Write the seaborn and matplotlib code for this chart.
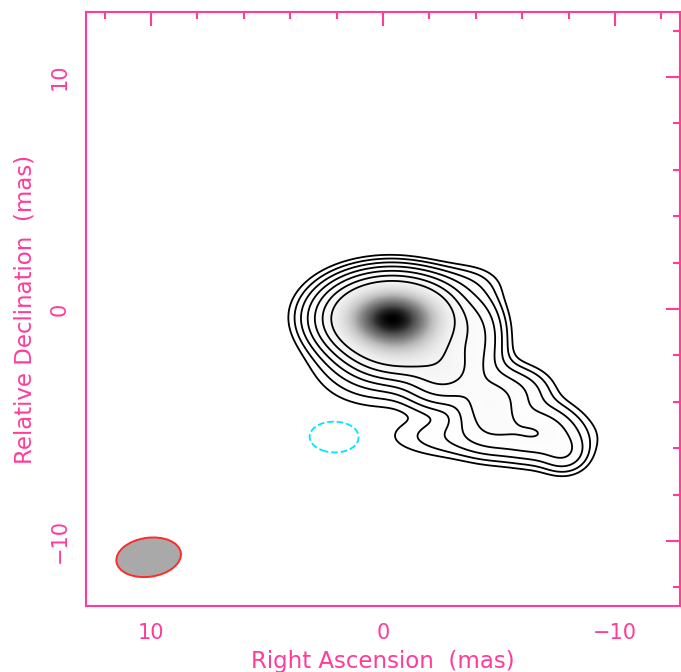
import numpy as np
import matplotlib
matplotlib.use("Agg")
import matplotlib.pyplot as plt
from matplotlib.patches import Ellipse
import seaborn as sns

# gaussian model components of the source (mas, fraction of peak)
comp_ra = [-0.4, -0.8, 0.3, 0.5, -4.0, -2.6, -4.6, -6.6, -4.5, -7.8, -5.95, -3.15]
comp_dec = [-0.4, -1.6, -2.5, 0.0, -1.2, -2.7, -4.2, -5.3, -5.5, -6.2, -3.56, 1.07]
comp_flux = [1.0, 0.15, 0.006, 0.005, 0.025, 0.06, 0.035, 0.02, 0.008, 0.01, 0.008, 0.0042]
comp_sig_ra = [1.22, 1.2, 1.5, 1.6, 0.65, 0.9, 0.8, 1.0, 2.2, 0.6, 0.8, 1.08]
comp_sig_dec = [0.75, 0.7, 1.0, 1.0, 1.0, 0.75, 0.9, 0.7, 0.55, 0.5, 0.6, 0.5]

# negative blob (dashed cyan contour)
neg_ra = [2.05]
neg_dec = [-5.5]
neg_flux = [-0.0045]
neg_sig_ra = [0.78]
neg_sig_dec = [0.48]

# contour levels: lowest x 2^n
lowest = 0.0016
level_factors = [1, 2, 4, 8, 16, 32, 64]

# restoring beam
beam_ra, beam_dec = 10.1, -10.7
beam_major, beam_minor, beam_pa = 2.8, 1.68, -8

ticks = [10, 0, -10]
tick_labels = ["10", "0", "\u221210"]

pink = "#ff3c9a"

sns.set_style("white")
plt.rcParams["font.family"] = ["DejaVu Sans"]

lim = 12.8
x = np.linspace(lim, -lim, 400)
y = np.linspace(-lim, lim, 400)
X, Y = np.meshgrid(x, y)

img = np.zeros_like(X)
for ra, dec, f, sx, sy in zip(comp_ra + neg_ra, comp_dec + neg_dec, comp_flux + neg_flux,
                              comp_sig_ra + neg_sig_ra, comp_sig_dec + neg_sig_dec):
    img += f * np.exp(-((X - ra) ** 2 / (2 * sx ** 2) + (Y - dec) ** 2 / (2 * sy ** 2)))

fig = plt.figure(figsize=(6.81, 6.72), dpi=100)
ax = fig.add_axes([86 / 681, 66 / 672, 594 / 681, 594 / 672])

ax.imshow(np.clip(img, 0, None), extent=[lim, -lim, -lim, lim], origin="lower",
          cmap="Greys", vmin=0, vmax=img.max(), interpolation="bilinear", aspect="auto")
pos_levels = [lowest * f for f in level_factors]
ax.contour(X, Y, img, levels=pos_levels, colors="black", linewidths=1.3)
ax.contour(X, Y, img, levels=[-lowest], colors="#00e5ff", linewidths=1.3,
           linestyles="dashed")

ax.add_patch(Ellipse((beam_ra, beam_dec), beam_major, beam_minor, angle=beam_pa,
                     facecolor="#a9a9a9", edgecolor="#ff2a2a", linewidth=1.4))

ax.set_xlim(lim, -lim)
ax.set_ylim(-lim, lim)
ax.set_xticks(ticks)
ax.set_xticklabels(tick_labels)
ax.set_yticks(ticks)
ax.set_yticklabels(tick_labels, rotation=90, va="center")
ax.set_xticks(np.arange(-12, 13, 2), minor=True)
ax.set_yticks(np.arange(-12, 13, 2), minor=True)
ax.tick_params(which="both", direction="in", top=True, right=True, color=pink,
               labelcolor=pink, width=1.5, labelsize=15)
ax.tick_params(which="major", length=10, pad=12)
ax.tick_params(which="minor", length=5)
for s in ax.spines.values():
    s.set_color(pink)
    s.set_linewidth(1.5)
    s.set_visible(True)

ax.set_xlabel("Right Ascension  (mas)", color=pink, fontsize=16.5, labelpad=5)
ax.set_ylabel("Relative Declination  (mas)", color=pink, fontsize=16.5, labelpad=9)

fig.savefig("out.png", dpi=100)
